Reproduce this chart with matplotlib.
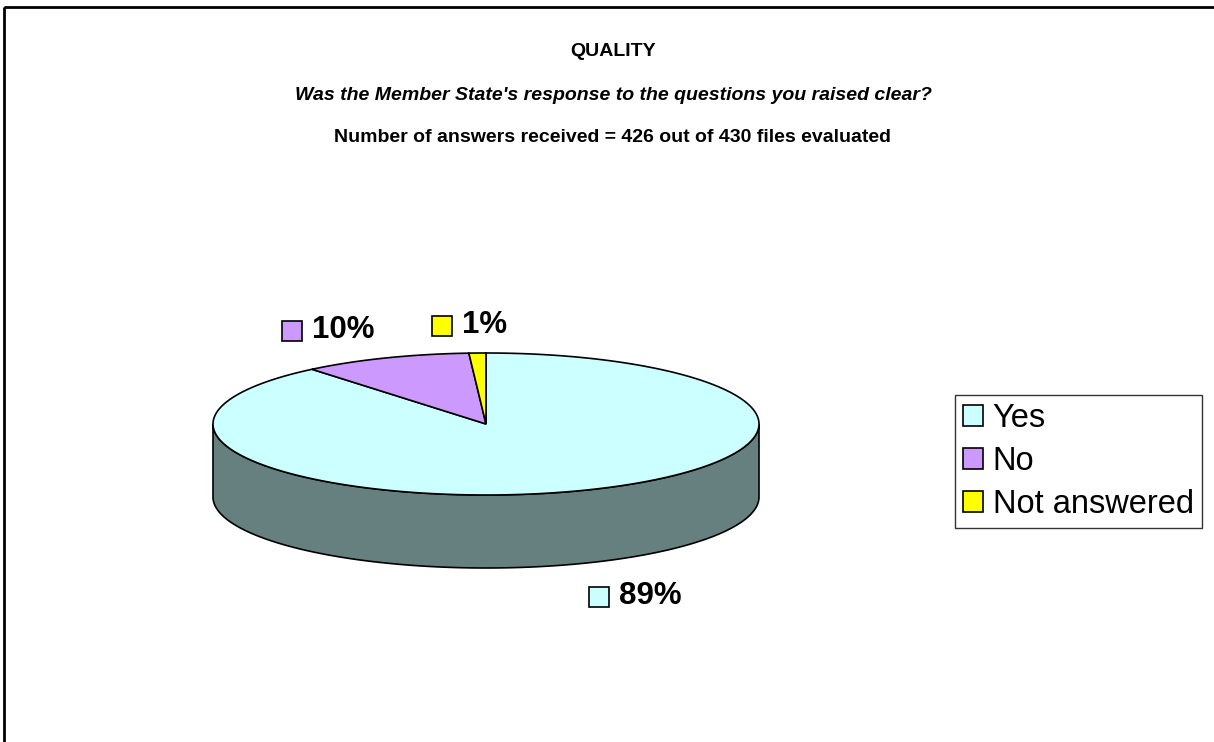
"""
QUALITY survey: 3D-style pie of answers on clarity of Member State responses.
"""

import numpy as np
import matplotlib
matplotlib.use("Agg")
import matplotlib.pyplot as plt
import matplotlib.patches as patches
from matplotlib.patches import Patch

plt.rcParams["font.family"] = ["Liberation Sans", "DejaVu Sans"]

# === Data ===
categories = ["Yes", "No", "Not answered"]
shares = [89, 10, 1]
label_texts = ["89%", "10%", "1%"]
top_colors = ["#CCFFFF", "#CC99FF", "#FFFF00"]
side_colors = ["#668080", "#66507F", "#808000"]

TITLE = "QUALITY"
SUBTITLE = "Was the Member State's response to the questions you raised clear?"
COUNT_LINE = "Number of answers received = 426 out of 430 files evaluated"

# === Layout (pixels) ===
W, H = 1214, 742
CX, CY = 486, 424          # centre of the top face
RX, RY = 273, 71           # ellipse semi-axes
DEPTH = 73                 # thickness of the pie
START = 90.0               # first slice starts at 12 o'clock, clockwise
LABEL_POS = [(650, 596), (343, 330), (485, 325)]  # centre of the percentage text
KEY = 20                   # legend-key square size
KEY_GAP = 10


def ellipse_pts(angles_deg, dy=0.0):
    t = np.radians(angles_deg)
    return np.column_stack([CX + RX * np.cos(t), CY - RY * np.sin(t) + dy])


def main():
    fig = plt.figure(figsize=(W / 100, H / 100), dpi=100)
    ax = fig.add_axes([0, 0, 1, 1])
    ax.set_xlim(0, W)
    ax.set_ylim(H, 0)
    ax.axis("off")

    # outer frame (runs off the right and bottom edges)
    ax.add_patch(patches.Rectangle((4, 7), W + 20, H + 20, fill=False,
                                   edgecolor="black", linewidth=2, zorder=0))

    total = float(sum(shares))
    bounds = []
    a = START
    for s in shares:
        b = a - s / total * 360.0
        bounds.append((b, a))
        a = b

    # side walls (front half only: angles where sin < 0)
    for (a0, a1), col in zip(bounds, side_colors):
        for shift in (-720, -360, 0, 360):
            lo = max(a0, -180 + shift)
            hi = min(a1, 0 + shift)
            if hi <= lo:
                continue
            ang = np.linspace(lo, hi, 200)
            top = ellipse_pts(ang)
            bot = ellipse_pts(ang[::-1], DEPTH)
            poly = np.vstack([top, bot])
            ax.add_patch(patches.Polygon(poly, closed=True, facecolor=col,
                                         edgecolor="black", linewidth=1.2, zorder=1))

    # top face
    for (a0, a1), col in zip(bounds, top_colors):
        ang = np.linspace(a1, a0, max(int(abs(a1 - a0) * 3), 10))
        arc = ellipse_pts(ang)
        poly = np.vstack([[CX, CY], arc])
        ax.add_patch(patches.Polygon(poly, closed=True, facecolor=col,
                                     edgecolor="black", linewidth=1.2, zorder=2))

    # data labels with legend keys
    fig.canvas.draw()
    for (lx, ly), txt, col in zip(LABEL_POS, label_texts, top_colors):
        t = ax.text(lx, ly, txt, fontsize=22.5, fontweight="bold",
                    ha="center", va="center", zorder=3)
        bb = t.get_window_extent(renderer=fig.canvas.get_renderer())
        bb = bb.transformed(ax.transData.inverted())
        x0 = min(bb.x0, bb.x1)
        ax.add_patch(patches.Rectangle((x0 - KEY - KEY_GAP, ly - KEY / 2 + 1), KEY, KEY,
                                       facecolor=col, edgecolor="black",
                                       linewidth=1.2, zorder=3))

    # titles
    ax.text(613, 52, TITLE, fontsize=14, fontweight="bold", ha="center", va="center")
    ax.text(613, 95, SUBTITLE, fontsize=14, fontweight="bold", style="italic",
            ha="center", va="center")
    ax.text(613, 137, COUNT_LINE, fontsize=14, fontweight="bold",
            ha="center", va="center")

    # legend
    handles = [Patch(facecolor=c, edgecolor="black", linewidth=1.2) for c in top_colors]
    leg = ax.legend(handles, categories, loc="upper left",
                    bbox_to_anchor=(955 / W, 1 - 395 / H),
                    bbox_transform=fig.transFigure,
                    fontsize=23.5, frameon=True, fancybox=False,
                    handlelength=0.6, handleheight=0.6, handletextpad=0.3,
                    labelspacing=0.36, borderpad=0.25, borderaxespad=0)
    leg.get_frame().set_edgecolor("black")
    leg.get_frame().set_linewidth(1)

    fig.savefig("out.png", dpi=100)
    plt.close(fig)


if __name__ == "__main__":
    main()
